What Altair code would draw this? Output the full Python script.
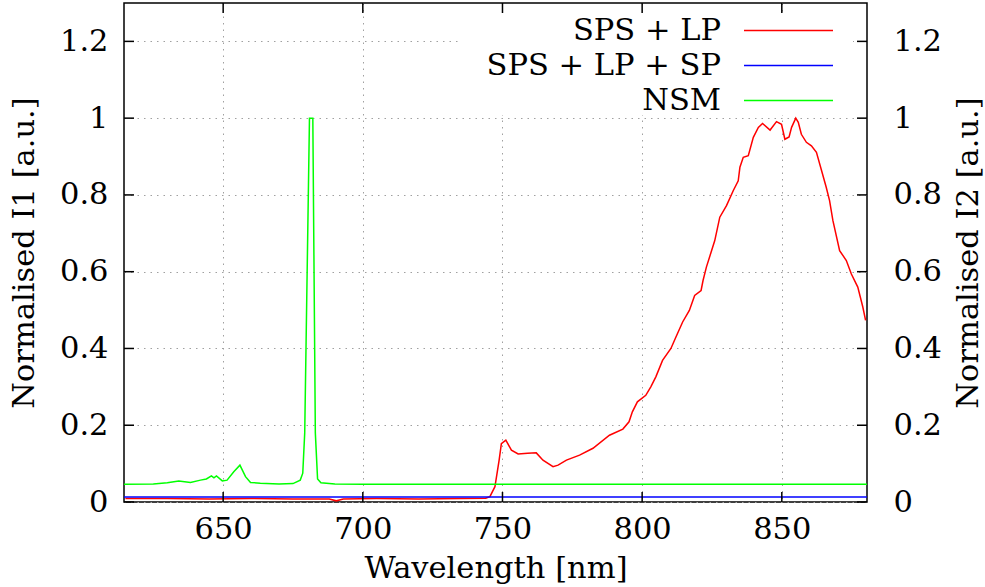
import altair as alt
import pandas as pd

# ---------------- data ----------------
series_names = ["SPS + LP", "SPS + LP + SP", "NSM"]
series_colors = ["#ff0000", "#0000ff", "#00ff00"]

red_x = [615, 630, 645, 660, 675, 688, 690.5, 693, 705, 720, 735, 744, 745.5, 747.3, 748.8,
         749.6, 751.2, 753.2, 755.6, 759, 762.1, 764.5, 768.1, 769.9, 772.9, 777.6, 782.4,
         788.3, 793.1, 795.3, 796.5, 798.3, 801.3, 803.1, 804.9, 807.3, 810.3, 812.1, 814.5,
         816.9, 818.8, 821.1, 821.8, 823, 826, 827.8, 830.2, 832.6, 834.4, 835, 836.2, 838,
         839.8, 841.6, 843.1, 845.8, 848.1, 849.9, 851.1, 852.6, 853.5, 855, 855.9, 857,
         858.8, 860.6, 862.4, 864.1, 865.9, 867.1, 868.3, 870.7, 873.1, 874.9, 877.2, 879.0, 880.0]
red_y = [0.009, 0.009, 0.008, 0.009, 0.008, 0.008, 0.003, 0.008, 0.009, 0.008, 0.009, 0.010, 0.014,
         0.040, 0.109, 0.152, 0.161, 0.135, 0.125, 0.127, 0.128, 0.109, 0.092, 0.096, 0.109, 0.122,
         0.140, 0.174, 0.190, 0.209, 0.235, 0.261, 0.278, 0.300, 0.326, 0.369, 0.400, 0.430, 0.469,
         0.499, 0.538, 0.551, 0.577, 0.612, 0.681, 0.742, 0.772, 0.811, 0.837, 0.872, 0.898, 0.902,
         0.950, 0.976, 0.986, 0.969, 0.991, 0.984, 0.945, 0.951, 0.976, 1.000, 0.989, 0.958,
         0.937, 0.928, 0.911, 0.867, 0.820, 0.785, 0.733, 0.655, 0.629, 0.594, 0.560, 0.508, 0.473]

blue_x = [614.5, 650, 700, 750, 800, 850, 880.5]
blue_y = [0.013, 0.013, 0.013, 0.013, 0.013, 0.013, 0.013]

green_x = [614.5, 625, 630, 634.1, 638.3, 641.9, 644, 645.8, 646.7, 647.6, 649.7, 651.4, 653.8,
           656, 658, 659.8, 663.3, 670, 675, 677.6, 678.5, 679.2, 680.9, 681.5, 682.1, 683.0,
           683.8, 685, 690, 700, 750, 800, 850, 880.5]
green_y = [0.046, 0.047, 0.050, 0.055, 0.051, 0.057, 0.060, 0.068, 0.063, 0.068, 0.055, 0.057,
           0.079, 0.096, 0.066, 0.051, 0.049, 0.047, 0.048, 0.057, 0.075, 0.180, 1.000, 1.000,
           1.000, 0.180, 0.060, 0.050, 0.047, 0.046, 0.046, 0.046, 0.046, 0.046]

x_ticks = [650, 700, 750, 800, 850]
y_ticks = [0, 0.2, 0.4, 0.6, 0.8, 1.0, 1.2]

assert len(red_x) == len(red_y)
assert len(green_x) == len(green_y)

# ---------------- styling ----------------
FONT = "DejaVu Serif"
FS = 30.5
W, H = 743, 499

xscale = alt.Scale(domain=[614.5, 880.5], nice=False, zero=False)
yscale = alt.Scale(domain=[0, 1.3], nice=False, zero=True)

common = dict(ticks=False, tickSize=0, domain=False, labelFont=FONT, labelFontSize=FS,
              labelColor="black", labelFlush=False, labelOverlap=False,
              titleFont=FONT, titleFontSize=FS, titleFontWeight="normal", titleColor="black")

x_axis = alt.Axis(values=x_ticks, title="Wavelength [nm]", grid=True, gridDash=[1.5, 5],
                  gridColor="#a0a0a0", gridWidth=1, labelBaseline="alphabetic", labelPadding=36,
                  titleX=W / 2, titleY=75, titleAlign="center", titleBaseline="alphabetic",
                  **common)
left_axis = alt.Axis(values=y_ticks, format="~g", title="Normalised I1 [a.u.]", grid=True,
                     gridDash=[1.5, 5], gridColor="#a0a0a0", gridWidth=1, labelPadding=16,
                     titleX=-100, titleY=H / 2, titleAngle=270, titleAlign="center",
                     titleBaseline="middle", **common)
right_axis = alt.Axis(values=y_ticks, format="~g", title="Normalised I2 [a.u.]", orient="right",
                      grid=False, labelPadding=26, titleX=101, titleY=H / 2, titleAngle=270,
                      titleAlign="center", titleBaseline="middle", **common)


def xe(axis=x_axis):
    return alt.X("wl:Q", scale=xscale, axis=axis)


def line_layer(xs, ys, color, axis):
    df = pd.DataFrame({"wl": xs, "val": ys})
    return alt.Chart(df).mark_line(color=color, strokeWidth=1.5, clip=True).encode(
        x=xe(), y=alt.Y("val:Q", scale=yscale, axis=axis))


red = line_layer(red_x, red_y, series_colors[0], left_axis)
blue = line_layer(blue_x, blue_y, series_colors[1], None)
green = line_layer(green_x, green_y, series_colors[2], None)

xt = pd.DataFrame({"wl": x_ticks})
yt = pd.DataFrame({"val": y_ticks})
tick_style = dict(color="black", strokeWidth=1.5)

xtick_top = alt.Chart(xt).mark_rule(**tick_style).encode(x=xe(), y=alt.value(0), y2=alt.value(10))
xtick_bot = alt.Chart(xt).mark_rule(**tick_style).encode(x=xe(), y=alt.value(H - 10), y2=alt.value(H))
ytick_left = alt.Chart(yt).mark_rule(**tick_style).encode(
    y=alt.Y("val:Q", scale=yscale, axis=None), x=alt.value(0), x2=alt.value(10))
ytick_right = alt.Chart(yt).mark_rule(**tick_style).encode(
    y=alt.Y("val:Q", scale=yscale, axis=right_axis), x=alt.value(W - 10), x2=alt.value(W))

# legend (key box, gnuplot style: text right-aligned, sample line to the right)
box = alt.Chart(pd.DataFrame({"k": [0]})).mark_rect(color="white").encode(
    x=alt.value(336), x2=alt.value(729), y=alt.value(11), y2=alt.value(112))

legend_layers = []
row_y = [27.5, 62.5, 97.5]
for name, col, ry in zip(series_names, series_colors, row_y):
    d = pd.DataFrame({"name": [name]})
    legend_layers.append(
        alt.Chart(d).mark_text(align="right", baseline="middle", font=FONT, fontSize=FS,
                               color="black").encode(text="name:N", x=alt.value(597), y=alt.value(ry)))
    legend_layers.append(
        alt.Chart(d).mark_rule(color=col, strokeWidth=1.5).encode(
            x=alt.value(620), x2=alt.value(709), y=alt.value(ry)))

chart = alt.layer(
    red, blue, green, box, *legend_layers, xtick_top, xtick_bot, ytick_left, ytick_right
).resolve_axis(y="independent").properties(
    width=W, height=H,
    autosize=alt.AutoSizeParams(type="none"),
    padding={"left": 124, "top": 3, "right": 985 - 124 - W, "bottom": 587 - 3 - H},
    background="white",
).configure_view(stroke="black", strokeWidth=1.5)

chart.save("out.html", embed_options={"renderer": "svg", "actions": False})
